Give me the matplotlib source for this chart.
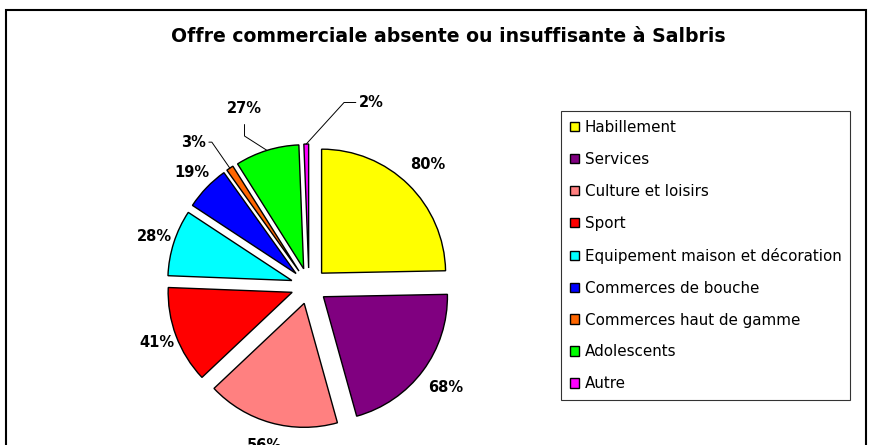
import matplotlib

matplotlib.use("Agg")
import matplotlib.pyplot as plt
import numpy as np
from matplotlib.patches import Rectangle

title = "Offre commerciale absente ou insuffisante à Salbris"
categories = [
    "Habillement",
    "Services",
    "Culture et loisirs",
    "Sport",
    "Equipement maison et décoration",
    "Commerces de bouche",
    "Commerces haut de gamme",
    "Adolescents",
    "Autre",
]
values = [80, 68, 56, 41, 28, 19, 3, 27, 2]
colors = ["#FFFF00", "#800080", "#FF8080", "#FF0000", "#00FFFF",
          "#0000FF", "#FF6600", "#00FF00", "#FF00FF"]

# small slices get a label pulled out with a leader line:
# (text offset from pie centre in radii, ha, angleA, angleB, relpos)
leaders = {
    "Commerces haut de gamme": ((-0.83, 1.16), "right", 0, 124.7, (1, 0.5)),
    "Adolescents": ((-0.52, 1.43), "center", 90, 147.4, (0.5, 0)),
    "Autre": ((0.40, 1.48), "left", 0, 47.7, (0, 0.5)),
}

W, H = 872, 445
fig = plt.figure(figsize=(W / 100, H / 100), dpi=100)

# chart area border (bottom edge runs off the image)
fig.patches.append(Rectangle((6 / W, -0.1), 860 / W, 1 - 10 / H + 0.1,
                             transform=fig.transFigure, fill=False,
                             edgecolor="black", linewidth=1.5))

fig.text(448 / W, 1 - 37 / H, title, ha="center", va="center",
         fontsize=13.6, fontweight="bold")

# pie axes placed in pixels: centre (309, 159 from bottom), radius 124 px
cx, cy, r, half = 309, 159, 124, 1.6
ax = fig.add_axes([(cx - half * r) / W, (cy - half * r) / H,
                   2 * half * r / W, 2 * half * r / H])
wedges, _ = ax.pie(values, colors=colors, startangle=90, counterclock=False,
                   explode=[0.145] * len(values),
                   wedgeprops=dict(edgecolor="black", linewidth=1.0))
ax.set_xlim(-half, half)
ax.set_ylim(-half, half)
ax.set_aspect("equal", adjustable="box")
ax.axis("off")

for w, name, v in zip(wedges, categories, values):
    mid = np.deg2rad((w.theta1 + w.theta2) / 2)
    ox, oy = w.center
    label = f"{v}%"
    if name in leaders:
        (tx, ty), ha, a_a, a_b, rel = leaders[name]
        edge = (ox + np.cos(mid), oy + np.sin(mid))
        ax.annotate(label, xy=edge, xytext=(tx, ty), ha=ha, va="center",
                    fontsize=10.5, fontweight="bold",
                    arrowprops=dict(arrowstyle="-", color="black", lw=0.7,
                                    shrinkA=0 if a_a == 0 else 4, shrinkB=0,
                                    relpos=rel,
                                    connectionstyle=f"angle,angleA={a_a},angleB={a_b},rad=0"))
    else:
        d = 1.2 + 0.04 * np.cos(mid)
        ax.text(ox + d * np.cos(mid), oy + d * np.sin(mid), label,
                ha="center", va="center", fontsize=10.5, fontweight="bold")

leg = fig.legend(wedges, categories, loc="upper left",
                 bbox_to_anchor=(561 / W, 1 - 111 / H), borderaxespad=0,
                 frameon=True, fancybox=False, edgecolor="black",
                 fontsize=10.9, handlelength=0.58, handleheight=0.58,
                 handletextpad=0.42, labelspacing=1.12, borderpad=0.58)
leg.get_frame().set_linewidth(0.8)

fig.savefig("out.png", dpi=100)
